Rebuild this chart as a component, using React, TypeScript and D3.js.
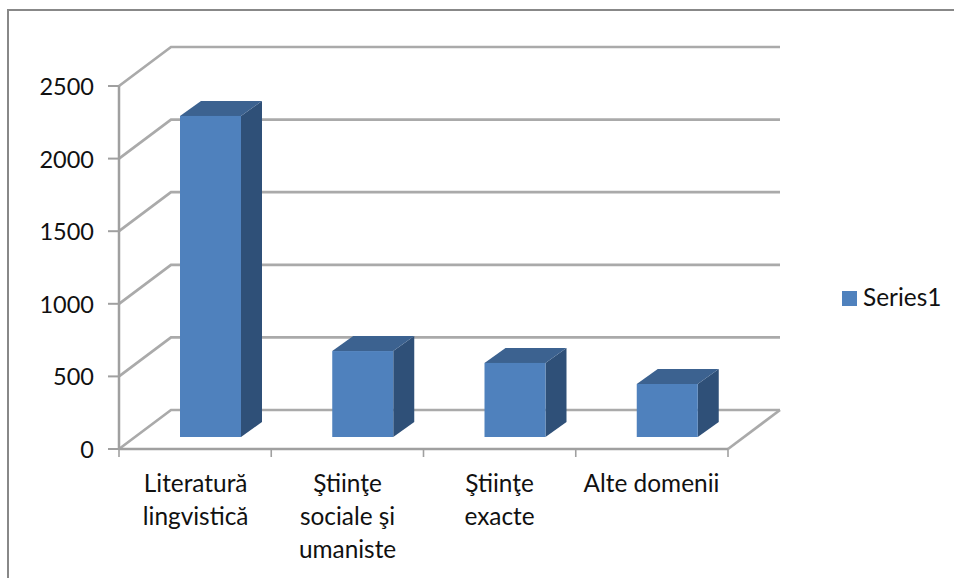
import React from "react";
import * as d3 from "d3";

const categories = ["Literatură lingvistică", "Ştiinţe sociale şi umaniste", "Ştiinţe exacte", "Alte domenii"];
const categoryLines = [["Literatură", "lingvistică"], ["Ştiinţe", "sociale şi", "umaniste"], ["Ştiinţe", "exacte"], ["Alte domenii"]];
const seriesName = "Series1";
const values = [2211, 592, 510, 365];
const ticks = [0, 500, 1000, 1500, 2000, 2500];

const FONT = "Lato, Carlito, 'Open Sans', sans-serif";
const GRID = "#aaaaaa";
const AXIS = "#a0a0a0";

export default function App() {
  const x = d3.scaleBand<string>().domain(categories).range([119, 728]);
  const y = d3.scaleLinear().domain([0, 2500]).range([449, 86]);
  const dx = 52, dy = -39;
  const barFrontOffset = 61, barW = 61, floorLift = 12, sideDx = 21, sideDy = -15;
  const base = y(0) - floorLift;
  const line = d3.line<[number, number]>();

  return (
    <svg width={954} height={578} style={{ position: "absolute", left: 0, top: 0, background: "#fff" }} fontFamily={FONT}>
      <path d="M8 578V10H954" fill="none" stroke="#888888" strokeWidth={2} />
      {ticks.map((t) => (
        <g key={t}>
          <path
            d={line([[119, y(t)], [119 + dx, y(t) + dy], [728 + dx, y(t) + dy]]) ?? ""}
            fill="none" stroke={GRID} strokeWidth={2.7}
          />
          <line x1={108} x2={119} y1={y(t)} y2={y(t)} stroke={AXIS} strokeWidth={2} />
          <text x={94} y={y(t) + 9} textAnchor="end" fontSize={23.5} fill="#111">{t}</text>
        </g>
      ))}
      <line x1={728} y1={449} x2={728 + dx} y2={449 + dy} stroke={GRID} strokeWidth={2.7} />
      <line x1={119} x2={119} y1={86} y2={449} stroke={AXIS} strokeWidth={2.5} />
      <line x1={119} x2={728} y1={449} y2={449} stroke={AXIS} strokeWidth={2.5} />
      {[...categories.map((c) => x(c) as number), 728].map((v) => (
        <line key={v} x1={v} x2={v} y1={449} y2={457} stroke={AXIS} strokeWidth={1.6} />
      ))}
      {categories.map((c, i) => {
        const x0 = (x(c) as number) + barFrontOffset;
        const h = y(0) - y(values[i]);
        const top = base - h;
        return (
          <g key={c}>
            <path d={`M${x0 + barW} ${top}l${sideDx} ${sideDy}V${base + sideDy}l${-sideDx} ${-sideDy}Z`} fill="#2f5078" />
            <path d={`M${x0} ${top}l${sideDx} ${sideDy}h${barW}l${-sideDx} ${-sideDy}Z`} fill="#3c6290" />
            <rect x={x0} y={top} width={barW} height={h} fill="#4f81bd" />
          </g>
        );
      })}
      {categories.map((c, i) => (
        <text key={c} textAnchor="middle" fontSize={24.4} fill="#111">
          {categoryLines[i].map((l, j) => (
            <tspan key={l} x={(x(c) as number) + x.bandwidth() / 2 + 0.5 - i * 0.3} y={492 + j * 33}>{l}</tspan>
          ))}
        </text>
      ))}
      <rect x={842} y={291} width={15} height={15} fill="#4f81bd" />
      <text x={863} y={306} fontSize={24.4} fill="#111">{seriesName}</text>
    </svg>
  );
}
